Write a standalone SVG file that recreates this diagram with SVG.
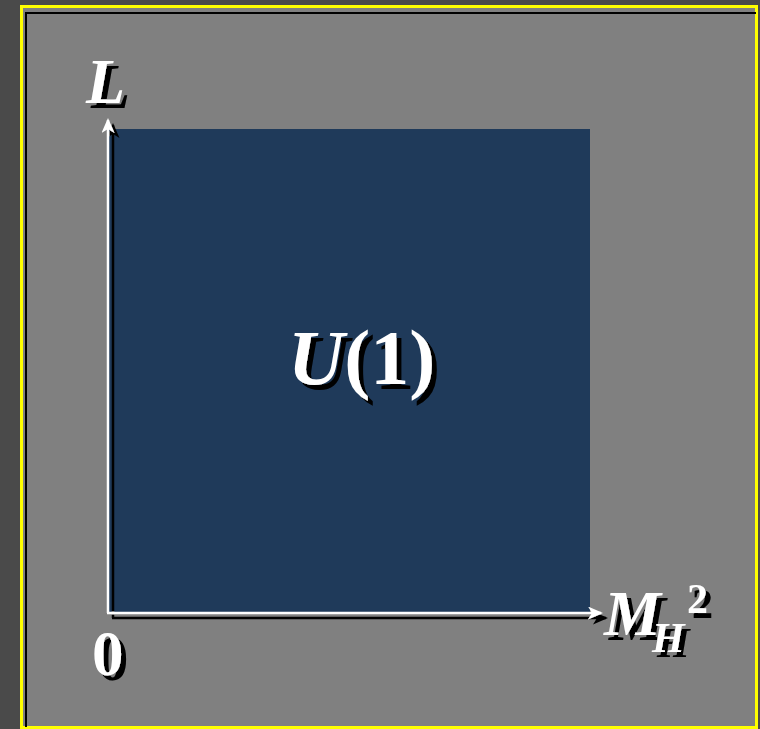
<svg xmlns="http://www.w3.org/2000/svg" width="760" height="729" viewBox="0 0 760 729">
<defs>
<style>
.t{font-family:"Liberation Serif","Times New Roman",serif;font-weight:bold;fill:#ffffff;}
.i{font-style:italic;}
.ax{stroke:#ffffff;stroke-width:2.5;fill:none;}
</style>
<filter id="sh" x="-20%" y="-20%" width="150%" height="150%">
<feOffset in="SourceAlpha" dx="5" dy="5" result="o"/>
<feMerge><feMergeNode in="o"/><feMergeNode in="SourceGraphic"/></feMerge>
</filter>
<marker id="aw" markerWidth="15" markerHeight="13" refX="13" refY="6.5" orient="auto" markerUnits="userSpaceOnUse" viewBox="0 0 15 13"><path d="M0,0 L15,6.5 L0,13 L4,6.5 Z" fill="#ffffff"/></marker>
</defs>
<rect x="0" y="0" width="760" height="729" fill="#4a4a4a"/>
<rect x="21.5" y="6.5" width="735" height="721" fill="#808080" stroke="#ffff00" stroke-width="3"/>
<polyline points="26,727 26,13 756,13" fill="none" stroke="#000000" stroke-width="2"/>
<g id="region">
<rect x="109" y="129" width="481" height="484" fill="#1f3a5a"/>
</g>
<g id="connectors" filter="url(#sh)">
<path class="ax" d="M108,613 L108,120" marker-end="url(#aw)"/>
<path class="ax" d="M107,613 L601,613" marker-end="url(#aw)"/>
</g>
<g id="label-L" filter="url(#sh)">
<text class="t i" x="86" y="103" font-size="64">L</text>
</g>
<g id="label-U1" filter="url(#sh)">
<text class="t" x="288" y="384" font-size="78"><tspan class="i">U</tspan>(1)</text>
</g>
<g id="label-0" filter="url(#sh)">
<text class="t" x="92" y="675" font-size="63">0</text>
</g>
<g id="label-MH2" filter="url(#sh)">
<text class="t" font-size="64"><tspan class="i" x="604" y="635">M</tspan><tspan class="i" x="652" y="652" font-size="42">H</tspan><tspan x="687" y="613" font-size="42">2</tspan></text>
</g>
</svg>
